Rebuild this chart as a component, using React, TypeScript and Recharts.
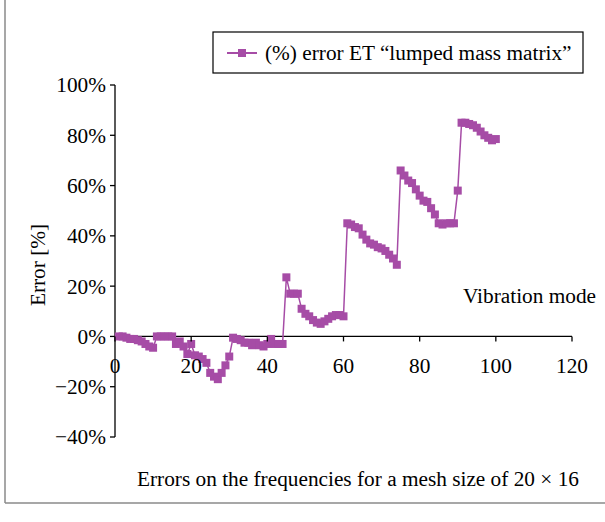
import React from 'react'
import { LineChart, Line, XAxis, YAxis, ReferenceLine } from 'recharts'

// error (%) per vibration mode, modes 1..100
const errors: number[] = [
  0, 0, -0.5, -1, -1, -1.5, -2, -3, -4, -4.5,
  0, 0, 0, 0, 0, -3, -2, -4, -7, -3,
  -7.5, -8, -9, -10.5, -14.5, -16, -17, -14.5, -11.5, -8,
  -0.5, -1, -1.5, -2.5, -2.5, -3.5, -2.5, -3.5, -4, -3,
  -1, -3, -3, -3, 23.5, 17, 17, 17, 11, 9,
  8, 6.5, 5.5, 5, 6, 7, 8, 8.5, 8.5, 8,
  45, 44.5, 43.5, 43, 40.5, 38.5, 37, 36.5, 35.5, 35,
  34, 32.5, 31, 28.5, 66, 64, 62, 61, 58.5, 56,
  54, 53.5, 51, 48.5, 45, 44.5, 45, 45, 45, 58,
  85, 85, 84.5, 84, 83, 81.5, 80, 79, 78, 78.5
]

const xTicks = [0, 20, 40, 60, 80, 100, 120]
const yTicks = [-40, -20, 0, 20, 40, 60, 80, 100]

const legendLabel = '(%) error ET \u201clumped mass matrix\u201d'
const yLabel = 'Error [%]'
const modeLabel = 'Vibration mode'
const caption = 'Errors on the frequencies for a mesh size of 20 \u00d7 16'

const W = 605
const H = 522
const PURPLE = '#a64ca6'
const FONT = '"Liberation Serif", "Times New Roman", serif'
const FS = 21.3
const txt = { fontFamily: FONT, fontSize: FS }
const margin = { top: 85, right: 33, bottom: 55, left: 55 }
const X_AXIS_H = 30
const Y_MIN = -40
const Y_MAX = 100
const plotH = H - margin.top - margin.bottom - X_AXIS_H
const zeroY = margin.top + (plotH * Y_MAX) / (Y_MAX - Y_MIN)

const fmtPct = (v: number) => (v < 0 ? '\u2212' + Math.abs(v) : String(v)) + '%'

const SquareDot = (props: any) => {
  const { cx, cy } = props
  if (cx == null || cy == null) return null
  return <rect x={cx - 4} y={cy - 4} width={8} height={8} fill={PURPLE} />
}

const XTick = (props: any) => {
  const { x, payload } = props
  return (
    <g>
      <line x1={x} x2={x} y1={zeroY} y2={zeroY + 5} stroke="#000" strokeWidth={1.3} />
      <text x={x} y={zeroY + 37} textAnchor="middle" style={txt} fill="#000">
        {payload.value}
      </text>
    </g>
  )
}

const YTick = (props: any) => {
  const { x, y, payload } = props
  return (
    <text x={x} y={y} dy="0.35em" textAnchor="end" style={txt} fill="#000">
      {fmtPct(payload.value)}
    </text>
  )
}

export default function App() {
  const data = errors.map((e, i) => ({ mode: i + 1, error: e }))

  return (
    <div style={{ position: 'absolute', left: 0, top: 0, width: W, height: H, background: '#fff' }}>
      <LineChart width={W} height={H} data={data} margin={margin} style={{ fontFamily: FONT }}>
        <XAxis
          dataKey="mode"
          type="number"
          domain={[0, 120]}
          ticks={xTicks}
          height={X_AXIS_H}
          axisLine={false}
          tickLine={false}
          tick={<XTick />}
          interval={0}
        />
        <YAxis
          type="number"
          domain={[Y_MIN, Y_MAX]}
          ticks={yTicks}
          width={60}
          axisLine={{ stroke: '#000', strokeWidth: 1.3 }}
          tickLine={{ stroke: '#000', strokeWidth: 1.3 }}
          tickSize={5}
          tickMargin={4}
          tick={<YTick />}
          interval={0}
        />
        <ReferenceLine y={0} stroke="#000" strokeWidth={1.3} />
        <Line
          dataKey="error"
          stroke={PURPLE}
          strokeWidth={1.5}
          dot={<SquareDot />}
          isAnimationActive={false}
        />
      </LineChart>

      <svg
        width={W}
        height={H}
        style={{ position: 'absolute', left: 0, top: 0, pointerEvents: 'none', fontFamily: FONT }}
      >
        <line x1={5} y1={0} x2={5} y2={503} stroke="#8a8a8a" strokeWidth={1.5} />
        <line x1={5} y1={503} x2={W} y2={503} stroke="#8a8a8a" strokeWidth={1.5} />

        <rect x={213} y={32} width={370} height={41} fill="#fff" stroke="#000" strokeWidth={1.2} />
        <line x1={227} y1={53} x2={257} y2={53} stroke={PURPLE} strokeWidth={2} />
        <rect x={238} y={49} width={8} height={8} fill={PURPLE} />
        <text x={265} y={60} style={txt} fill="#000">{legendLabel}</text>

        <text x={45} y={265} style={txt} fill="#000" textAnchor="middle" transform="rotate(-90, 45, 265)">
          {yLabel}
        </text>
        <text x={463} y={303} style={txt} fill="#000">{modeLabel}</text>
        <text x={137} y={486} style={txt} fill="#000">{caption}</text>
      </svg>
    </div>
  )
}
